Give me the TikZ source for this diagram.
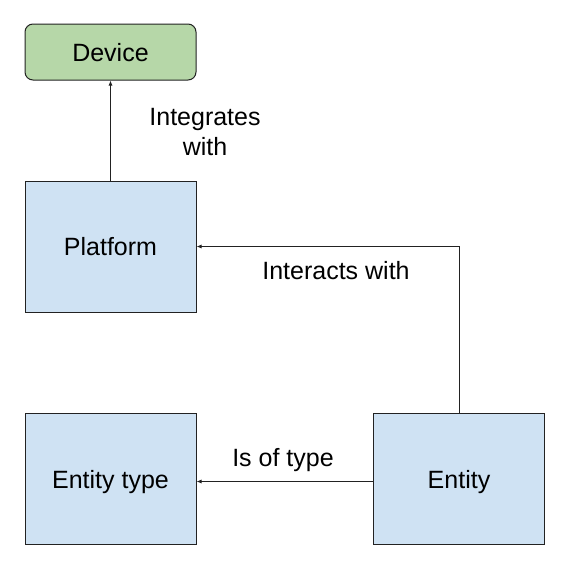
\documentclass[tikz,border=0pt]{standalone}
\usepackage{fontspec}
\setmainfont{Liberation Sans}
\usetikzlibrary{arrows.meta}
\definecolor{devgreen}{HTML}{B6D7A8}
\definecolor{boxblue}{HTML}{CFE2F3}
\definecolor{edge}{HTML}{222222}
\begin{document}
\begin{tikzpicture}[x=1pt,y=-1pt,
  box/.style={draw=edge,line width=1pt,fill=boxblue,minimum width=171pt,minimum height=131pt,inner sep=0pt,text height=18pt,text depth=0pt,font=\fontsize{25}{29}\selectfont},
  devbox/.style={draw=edge,line width=1pt,fill=devgreen,rounded corners=8pt,minimum width=171pt,minimum height=56pt,inner sep=0pt,text height=18pt,text depth=0pt,font=\fontsize{25}{29}\selectfont},
  conn/.style={draw=edge,line width=0.8pt,-{Latex[length=5pt,width=4pt]}},
  lbl/.style={font=\fontsize{25}{30}\selectfont,align=center,inner sep=0pt}]
\useasboundingbox (0,0) rectangle (566,566);
\fill[white] (0,0) rectangle (566,566);
\node[devbox] (device) at (110.5,52) {Device};
\node[box] (platform) at (110.5,246.5) {Platform};
\node[box] (etype) at (110.5,479) {Entity type};
\node[box] (entity) at (459,479) {Entity};
\draw[conn] (platform.north) -- (device.south);
\draw[conn] (entity.north) |- (platform.east);
\draw[conn] (entity.west |- 0,481.5) -- (etype.east |- 0,481.5);
\node[lbl] (l1) at (205,132) {Integrates\\with};
\node[lbl] (l2) at (336,271) {Interacts with};
\node[lbl] (l3) at (283,460) {Is of type};
\end{tikzpicture}
\end{document}
